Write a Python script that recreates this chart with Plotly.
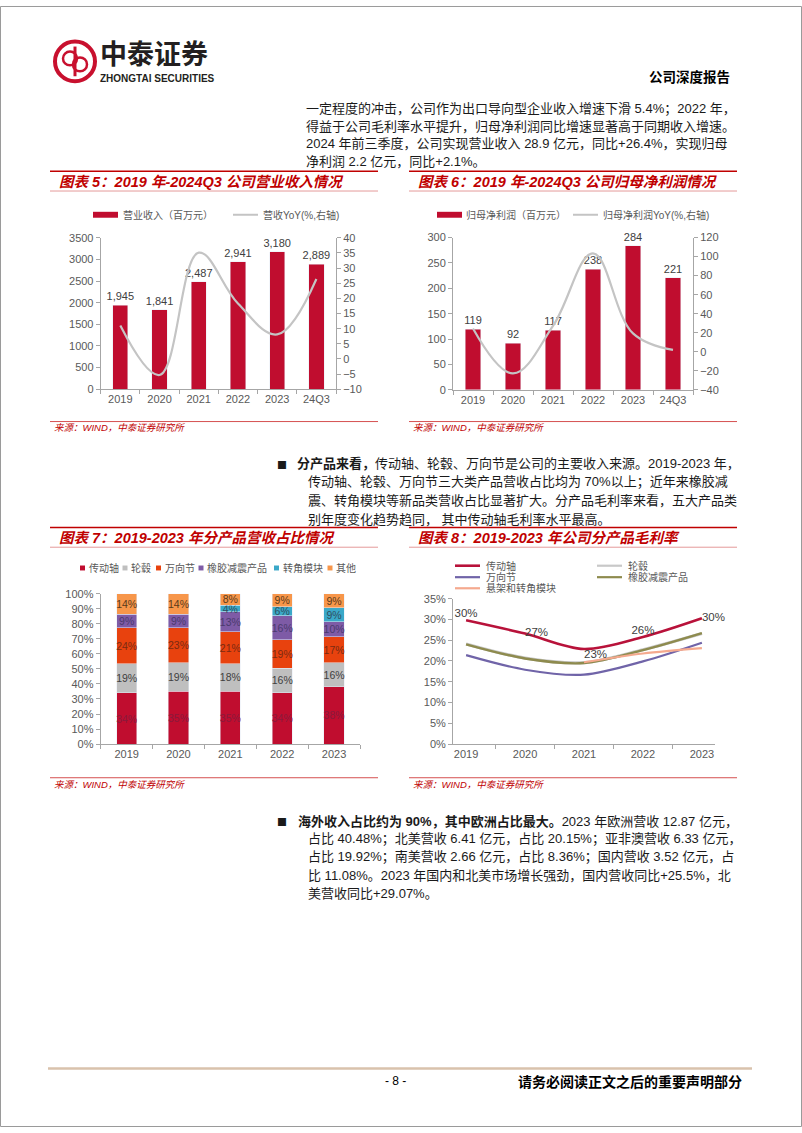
import plotly.graph_objects as go

W, H = 802, 1133


def px(x):
    return x / W


def py(y):
    return 1 - y / H


# ---------------- data ----------------
years6 = ["2019", "2020", "2021", "2022", "2023", "24Q3"]
revenue = [1945, 1841, 2487, 2941, 3180, 2889]
revenue_yoy = [11.0, -5.3, 35.1, 18.3, 8.1, 26.4]
profit = [119, 92, 117, 238, 284, 221]
profit_yoy = [24.5, -22.7, 27.2, 103.4, 19.3, 2.1]

years5 = ["2019", "2020", "2021", "2022", "2023"]
share_names = ["传动轴", "轮毂", "万向节", "橡胶减震产品", "转角模块", "其他"]
share_drive_shaft = [34.0, 35.3, 35.3, 34.3, 38.2]
share_hub = [19.4, 18.8, 18.0, 16.1, 15.8]
share_ujoint = [24.1, 23.3, 21.4, 19.0, 17.3]
share_rubber = [8.8, 8.8, 13.2, 16.0, 10.1]
share_corner = [None, None, 4.4, 6.0, 9.3]
share_other = [13.7, 13.8, 7.7, 8.6, 9.3]

gm_names = ["传动轴", "轮毂", "万向节", "橡胶减震产品", "悬架和转角模块"]
gm_drive_shaft = [29.8, 26.6, 22.9, 25.8, 30.3]
gm_hub = [24.1, 20.7, 19.6, 22.7, 26.6]
gm_ujoint = [21.4, 17.9, 16.7, 19.9, 24.4]
gm_rubber = [24.0, 20.6, 19.5, 22.6, 26.7]
gm_suspension = [None, None, 19.7, 21.8, 23.1]

# ---------------- styles ----------------
RED = "#C00D2F"
TITLE_RED = "#C00000"
AX = "#A6A6A6"
TXT = "#595959"
LAT = "Liberation Sans, Noto Sans CJK SC, sans-serif"
CJK = "Noto Sans CJK SC, sans-serif"
TF = dict(size=11, color=TXT, family=LAT)

fig = go.Figure()

# Chart 5
fig.add_trace(go.Bar(x=years6, y=revenue, xaxis="x", yaxis="y", marker_color=RED,
                     width=0.39, text=[f"{v:,}" for v in revenue], textposition="outside",
                     textfont=dict(size=11, color="#404040", family=LAT), cliponaxis=False,
                     showlegend=False))
fig.add_trace(go.Scatter(x=years6, y=revenue_yoy, xaxis="x", yaxis="y2", mode="lines",
                         line=dict(color="#C4C4C4", width=2.2, shape="spline", smoothing=1.1),
                         showlegend=False))

# Chart 6
fig.add_trace(go.Bar(x=years6, y=profit, xaxis="x2", yaxis="y3", marker_color=RED,
                     width=0.39, text=[str(v) for v in profit], textposition="outside",
                     textfont=dict(size=11, color="#404040", family=LAT), cliponaxis=False,
                     showlegend=False))
fig.add_trace(go.Scatter(x=years6, y=profit_yoy, xaxis="x2", yaxis="y4", mode="lines",
                         line=dict(color="#C4C4C4", width=2.2, shape="spline", smoothing=1.1),
                         showlegend=False))

# Chart 7
share_series = [share_drive_shaft, share_hub, share_ujoint, share_rubber, share_corner, share_other]
share_colors = [RED, "#BFBFBF", "#E8420E", "#7E5BA6", "#3AA8C8", "#F7964A"]
share_txtcol = ["#8A1A3C", "#404040", "#7A2A12", "#4A3A6E", "#2F4F5F", "#5A3A1A"]
for name, vals, col, tcol in zip(share_names, share_series, share_colors, share_txtcol):
    fig.add_trace(go.Bar(x=years5, y=vals, xaxis="x3", yaxis="y5", name=name,
                         marker_color=col, width=0.39,
                         text=[("" if v is None else f"{v:.0f}%") for v in vals],
                         textposition="inside", insidetextanchor="middle", textangle=0,
                         textfont=dict(size=10.5, color=tcol, family=LAT),
                         showlegend=False))

# Chart 8
gm_series = [gm_hub, gm_rubber, gm_ujoint, gm_suspension, gm_drive_shaft]
gm_order_names = ["轮毂", "橡胶减震产品", "万向节", "悬架和转角模块", "传动轴"]
gm_colors = {"传动轴": "#B8123A", "轮毂": "#C8C8C8", "万向节": "#7064A8",
             "橡胶减震产品": "#8E8B4E", "悬架和转角模块": "#F5A98E"}
gm_widths = {"传动轴": 2.6, "轮毂": 3.2, "万向节": 2.2, "橡胶减震产品": 2.4, "悬架和转角模块": 2.2}
for name, vals in zip(gm_order_names, gm_series):
    if name == "传动轴":
        fig.add_trace(go.Scatter(x=years5, y=vals, xaxis="x4", yaxis="y6", mode="lines+text",
                                 line=dict(color=gm_colors[name], width=gm_widths[name],
                                           shape="spline", smoothing=0.9),
                                 text=[f"{v:.0f}%" for v in vals],
                                 textposition=["top center", "middle right", "bottom right",
                                               "top center", "middle right"],
                                 textfont=dict(size=11.5, color="#404040", family=LAT),
                                 cliponaxis=False, showlegend=False))
    else:
        fig.add_trace(go.Scatter(x=years5, y=vals, xaxis="x4", yaxis="y6", mode="lines",
                                 line=dict(color=gm_colors[name], width=gm_widths[name],
                                           shape="spline", smoothing=0.9),
                                 connectgaps=False, showlegend=False))


def axis_common(**kw):
    d = dict(showline=True, linecolor=AX, linewidth=1, ticks="outside", ticklen=4,
             tickcolor=AX, tickfont=TF, showgrid=False, zeroline=False, fixedrange=True)
    d.update(kw)
    return d


layout = dict(
    width=W, height=H, autosize=False,
    margin=dict(l=0, r=0, t=0, b=0),
    paper_bgcolor="white", plot_bgcolor="rgba(0,0,0,0)",
    barmode="stack", bargap=0.6,
    uniformtext=dict(mode="show", minsize=10),
    font=dict(family=LAT, color=TXT),
    xaxis=axis_common(domain=[px(100.7), px(336)], anchor="y", type="category", tickson="boundaries"),
    yaxis=axis_common(domain=[py(387.3), py(234.3)], anchor="x", range=[0, 3500], dtick=500),
    yaxis2=axis_common(overlaying="y", side="right", anchor="x", range=[-10, 40], dtick=5),
    xaxis2=axis_common(domain=[px(453), px(693)], anchor="y3", type="category", tickson="boundaries"),
    yaxis3=axis_common(domain=[py(388), py(234)], anchor="x2", range=[0, 300], dtick=50),
    yaxis4=axis_common(overlaying="y3", side="right", anchor="x2", range=[-40, 120], dtick=20),
    xaxis3=axis_common(domain=[px(100.7), px(360)], anchor="y5", type="category", tickson="boundaries"),
    yaxis5=axis_common(domain=[py(746), py(594)], anchor="x3", range=[0, 100], dtick=10, ticksuffix="%"),
    xaxis4=axis_common(domain=[px(453), px(715)], anchor="y6", type="category", tickson="boundaries"),
    yaxis6=axis_common(domain=[py(746), py(599)], anchor="x4", range=[0, 35], dtick=5, ticksuffix="%"),
)
fig.update_layout(**layout)

shapes = []
anns = []


def line(x0, y0, x1, y1, color, width=1):
    shapes.append(dict(type="line", xref="paper", yref="paper", x0=px(x0), y0=py(y0),
                       x1=px(x1), y1=py(y1), line=dict(color=color, width=width)))


def rect(x0, y0, x1, y1, color):
    shapes.append(dict(type="rect", xref="paper", yref="paper", x0=px(x0), y0=py(y0),
                       x1=px(x1), y1=py(y1), line=dict(width=0), fillcolor=color))


def circle(cx, cy, r, color, width):
    shapes.append(dict(type="circle", xref="paper", yref="paper", x0=px(cx - r), y0=py(cy + r),
                       x1=px(cx + r), y1=py(cy - r), line=dict(color=color, width=width)))


def text(t, x, y, size=12, color="#000000", xanchor="left", family=CJK):
    anns.append(dict(text=t, x=px(x), y=py(y), xref="paper", yref="paper", xanchor=xanchor,
                     yanchor="middle", showarrow=False, align="left",
                     font=dict(size=size, color=color, family=family)))


# page frame
shapes.append(dict(type="rect", xref="paper", yref="paper", x0=px(0.5), y0=py(1132.5),
                   x1=px(801.5), y1=py(0.5), line=dict(color="#9A9A9A", width=1)))

# header logo
LOGO = "#C8102E"
circle(75, 56, 20, LOGO, 4)
circle(70, 53, 7, LOGO, 2.5)
circle(80, 59, 7, LOGO, 2.5)
line(75, 41, 75, 71, LOGO, 3)
text("<b>中泰证券</b>", 98, 47.5, size=27, color="#231F20")
text("<b>ZHONGTAI SECURITIES</b>", 98, 73, size=10, color="#231F20", family=LAT)
text("<b>公司深度报告</b>", 732, 71, size=13.5, color="#000000", xanchor="right")

# paragraph 1
P = "#1A1A1A"
para1 = [
    "一定程度的冲击，公司作为出口导向型企业收入增速下滑 5.4%；2022 年，",
    "得益于公司毛利率水平提升，归母净利润同比增速显著高于同期收入增速。",
    "2024 年前三季度，公司实现营业收入 28.9 亿元，同比+26.4%，实现归母",
    "净利润 2.2 亿元，同比+2.1%。",
]
for i, t in enumerate(para1):
    text(t, 304, 104 + i * 17.6, size=13, color=P, family=LAT)

# chart block headers
def block(x0, x1, ytop, title, ysrc):
    line(x0, ytop, x1, ytop, TITLE_RED, 1.5)
    line(x0, ytop + 20, x1, ytop + 20, "#E59A9A", 1)
    text(f"<b><i>{title}</i></b>", x0 + 7, ytop + 11, size=14.5, color=TITLE_RED, family=LAT)
    line(x0, ysrc, x1, ysrc, "#D65050", 1)
    text("<i>来源：WIND，中泰证券研究所</i>", x0 + 2, ysrc + 6.5, size=9.5, color=TITLE_RED, family=LAT)


block(50, 378, 167, "图表 5：2019 年-2024Q3 公司营业收入情况", 420)
block(409, 737, 167, "图表 6：2019 年-2024Q3 公司归母净利润情况", 420)
block(50, 378, 527, "图表 7：2019-2023 年分产品营收占比情况", 780)
block(409, 737, 527, "图表 8：2019-2023 年公司分产品毛利率", 780)

# chart 5 legend
rect(93, 208, 118, 214, RED)
text("营业收入（百万元）", 121, 211, size=10, color=TXT, family=LAT)
line(233, 211, 258, 211, "#C4C4C4", 2)
text("营收YoY(%,右轴)", 261, 211, size=10, color=TXT, family=LAT)

# chart 6 legend
rect(437, 208, 462, 214, RED)
text("归母净利润（百万元）", 464, 211, size=10, color=TXT, family=LAT)
line(573, 211, 598, 211, "#C4C4C4", 2)
text("归母净利润YoY(%,右轴)", 601, 211, size=10, color=TXT, family=LAT)

# chart 7 legend
leg7_x = [80, 122.5, 156, 198.5, 274, 327.5]
for name, col, lx in zip(share_names, share_colors, leg7_x):
    rect(lx, 565.5, lx + 5, 570.5, col)
    text(name, lx + 6.5, 568, size=10, color=TXT, family=LAT)

# chart 8 legend
leg8 = [("传动轴", 455, 565.7), ("轮毂", 597, 565.7), ("万向节", 455, 577.3),
        ("橡胶减震产品", 597, 577.3), ("悬架和转角模块", 455, 588.5)]
for name, lx, ly in leg8:
    line(lx, ly, lx + 25, ly, gm_colors[name], 2.2 if name != "传动轴" else 2.6)
    text(name, lx + 29, ly, size=10, color=TXT, family=LAT)

# paragraph 2
text("■", 282, 463, size=10, color=P, xanchor="center", family=CJK)
para2 = [
    "<b>分产品来看，</b>传动轴、轮毂、万向节是公司的主要收入来源。2019-2023 年，",
    "传动轴、轮毂、万向节三大类产品营收占比均为 70%以上；近年来橡胶减",
    "震、转角模块等新品类营收占比显著扩大。分产品毛利率来看，五大产品类",
    "别年度变化趋势趋同， 其中传动轴毛利率水平最高。",
]
for i, t in enumerate(para2):
    text(t, 295 if i == 0 else 306, 462 + i * 19.0, size=13, color=P, family=LAT)

# paragraph 3
text("■", 282, 824, size=10, color=P, xanchor="center", family=CJK)
para3 = [
    "<b>海外收入占比约为 90%，其中欧洲占比最大。</b>2023 年欧洲营收 12.87 亿元，",
    "占比 40.48%；北美营收 6.41 亿元，占比 20.15%；亚非澳营收 6.33 亿元，",
    "占比 19.92%；南美营收 2.66 亿元，占比 8.36%；国内营收 3.52 亿元，占",
    "比 11.08%。2023 年国内和北美市场增长强劲，国内营收同比+25.5%，北",
    "美营收同比+29.07%。",
]
for i, t in enumerate(para3):
    text(t, 296 if i == 0 else 306, 824 + i * 18.2, size=13, color=P, family=LAT)

# footer
line(48, 1074, 752, 1074, "#D9C2AC", 2.5)
text("- 8 -", 395, 1087, size=12, color="#000000", xanchor="center", family=LAT)
text("<b>请务必阅读正文之后的重要声明部分</b>", 744, 1087, size=14, color="#000000", xanchor="right")

fig.update_layout(shapes=shapes, annotations=anns)
fig.write_html("out.html", config={"displayModeBar": False},
               post_script="document.body.style.margin='0px';document.body.style.overflow='hidden';")
